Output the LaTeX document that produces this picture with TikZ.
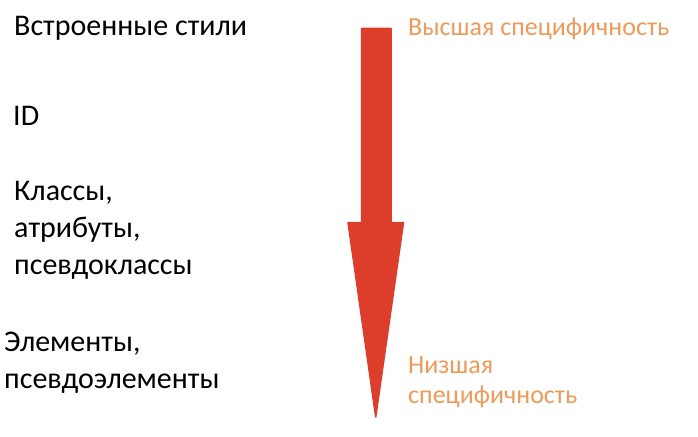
\documentclass[tikz,border=0pt]{standalone}
\usepackage{fontspec}
\setmainfont{Carlito}
\definecolor{arrowred}{HTML}{DC3E2B}
\definecolor{labelorange}{HTML}{EF9A5A}
\tikzset{
  lvl/.style={anchor=base west, inner sep=0pt, align=left, text=black,
    font=\fontsize{30}{37}\selectfont},
  spec/.style={anchor=base west, inner sep=0pt, align=left, text=labelorange,
    font=\fontsize{26}{30}\selectfont},
  bigarrow/.style={fill=arrowred, draw=arrowred, line width=1.5pt, line join=round}
}
\begin{document}
\begin{tikzpicture}[x=1pt,y=-1pt]
\useasboundingbox (0,0) rectangle (698,436);
\node[lvl] (inl) at (14,36) {Встроенные стили};
\node[lvl] (id) at (13,125) {ID};
\node[lvl] (cls) at (14,274) {Классы,\\атрибуты,\\псевдоклассы};
\node[lvl] (el) at (4,388) {Элементы,\\псевдоэлементы};
\node[spec] (hi) at (408,36) {Высшая специфичность};
\node[spec] (lo) at (408,403) {Низшая\\специфичность};
\coordinate (tip) at (375.7,417);
\draw[bigarrow] (361.5,28.5) -- (391,28.5) -- (391,222.5) -- (403.5,222.5)
  -- (tip) -- (348,222.5) -- (361.5,222.5) -- cycle;
\end{tikzpicture}
\end{document}
